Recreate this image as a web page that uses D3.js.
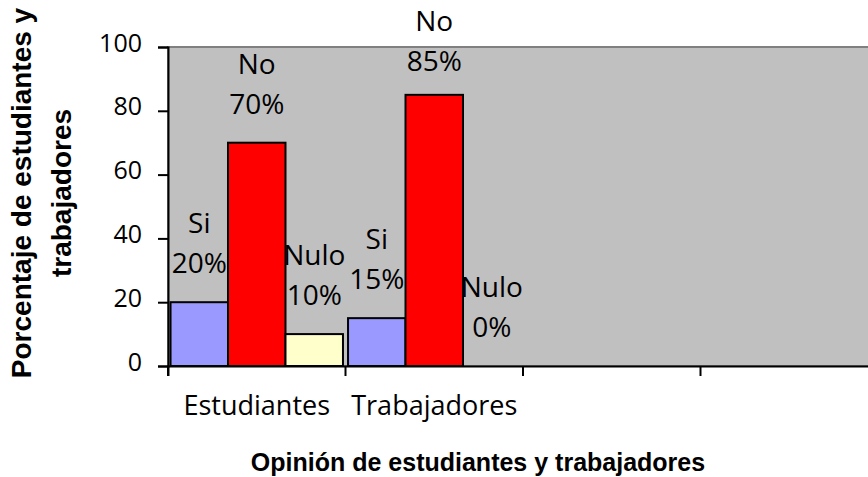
<!DOCTYPE html>
<html>
<head>
<meta charset="utf-8">
<script src="https://d3js.org/d3.v7.min.js"></script>
<style>
  body { margin: 0; background: #fff; }
  svg { display: block; }
</style>
</head>
<body>
<svg id="chart" width="868" height="477"></svg>
<script>
// datos de la encuesta
const categories = ["Estudiantes", "Trabajadores", "", ""];
const series = ["Si", "No", "Nulo"];
const si = [20, 15];
const no = [70, 85];
const nulo = [10, 0];
const yTicks = [0, 20, 40, 60, 80, 100];
const colors = ["#9999FF", "#FF0000", "#FFFFCC"];

const svg = d3.select("svg#chart");

const plotLeft = 168, plotTop = 47, plotBottom = 366,
    step = 177.5;
const plotRight = plotLeft + step * categories.length;

const x0 = d3.scaleBand()
    .domain(d3.range(categories.length))
    .range([plotLeft, plotRight])
    .padding(0);

const x1 = d3.scaleBand()
    .domain(series)
    .range([0, x0.bandwidth()])
    .paddingInner(0)
    .paddingOuter(0.044);

const y = d3.scaleLinear()
    .domain([0, 100])
    .range([plotBottom, plotTop]);

// plot area
svg.append("rect")
    .attr("x", plotLeft)
    .attr("y", plotTop)
    .attr("width", plotRight - plotLeft)
    .attr("height", plotBottom - plotTop)
    .attr("fill", "#C0C0C0")
    .attr("stroke", "#808080")
    .attr("stroke-width", 2);

// rows: one per category that has data
let rows = si.map(function(d, i) {
    return { cat: i, values: [si[i], no[i], nulo[i]] };
});

let bars = [];
rows.forEach(function(r) {
    r.values.forEach(function(v, j) {
        bars.push({ cat: r.cat, name: series[j], value: v, color: colors[j] });
    });
});

const g = svg.append("g");

g.selectAll("rect.bar")
    .data(bars)
    .enter().append("rect")
    .attr("class", "bar")
    .attr("x", function(d) { return x0(d.cat) + x1(d.name); })
    .attr("y", function(d) { return y(d.value); })
    .attr("width", x1.bandwidth())
    .attr("height", function(d) { return plotBottom - y(d.value); })
    .attr("fill", function(d) { return d.color; })
    .attr("stroke", function(d) { return d.value > 0 ? "#000" : "none"; })
    .attr("stroke-width", 2);

// etiquetas: nombre arriba, porcentaje abajo
// (excel las baja si no caben arriba)
function nameY(d) { return Math.max(y(d.value) - 69, 31); }

const labels = g.selectAll("text.lab")
    .data(bars)
    .enter().append("text")
    .attr("class", "lab")
    .attr("text-anchor", "middle")
    .style("font-family", "'Open Sans', sans-serif")
    .style("font-size", "28px")
    .attr("fill", "#000");

labels.append("tspan")
    .attr("x", function(d) { return x0(d.cat) + x1(d.name) + x1.bandwidth() / 2; })
    .attr("y", nameY)
    .text(function(d) { return d.name; });

labels.append("tspan")
    .attr("x", function(d) { return x0(d.cat) + x1(d.name) + x1.bandwidth() / 2; })
    .attr("y", function(d) { return nameY(d) + 40; })
    .text(function(d) { return d.value + "%"; });

// ejes
const yAxis = svg.append("g")
    .attr("transform", "translate(" + plotLeft + ",0)")
    .call(d3.axisLeft(y).tickValues(yTicks).tickSize(10).tickPadding(16));

const xAxis = svg.append("g")
    .attr("transform", "translate(0," + plotBottom + ")")
    .call(d3.axisBottom(x0).tickSize(10).tickPadding(20)
        .tickFormat(function(i) { return categories[i]; }));

// ticks between categories, like excel
xAxis.selectAll(".tick line")
    .attr("x1", -step / 2)
    .attr("x2", -step / 2);

[yAxis, xAxis].forEach(function(ax) {
    ax.select(".domain").attr("stroke", "#000").attr("stroke-width", 2);
    ax.selectAll(".tick line").attr("stroke", "#000").attr("stroke-width", 2);
    ax.selectAll(".tick text")
        .attr("fill", "#000")
        .style("font-family", "'Open Sans', sans-serif");
});
yAxis.selectAll(".tick text").style("font-size", "25px").attr("dy", "0.16em");
xAxis.selectAll(".tick text").style("font-size", "27px");

// titulos
svg.append("text")
    .attr("x", 478)
    .attr("y", 471)
    .attr("text-anchor", "middle")
    .style("font-family", "'Liberation Sans', Arial, sans-serif")
    .style("font-weight", "bold")
    .style("font-size", "25px")
    .text("Opinión de estudiantes y trabajadores");

const yt = svg.append("text")
    .attr("transform", "translate(0,193) rotate(-90)")
    .attr("text-anchor", "middle")
    .style("font-family", "'Liberation Sans', Arial, sans-serif")
    .style("font-weight", "bold")
    .style("font-size", "28px");
yt.append("tspan").attr("x", 0).attr("y", 31).text("Porcentaje de estudiantes y");
yt.append("tspan").attr("x", 0).attr("y", 71).text("trabajadores");
</script>
</body>
</html>
